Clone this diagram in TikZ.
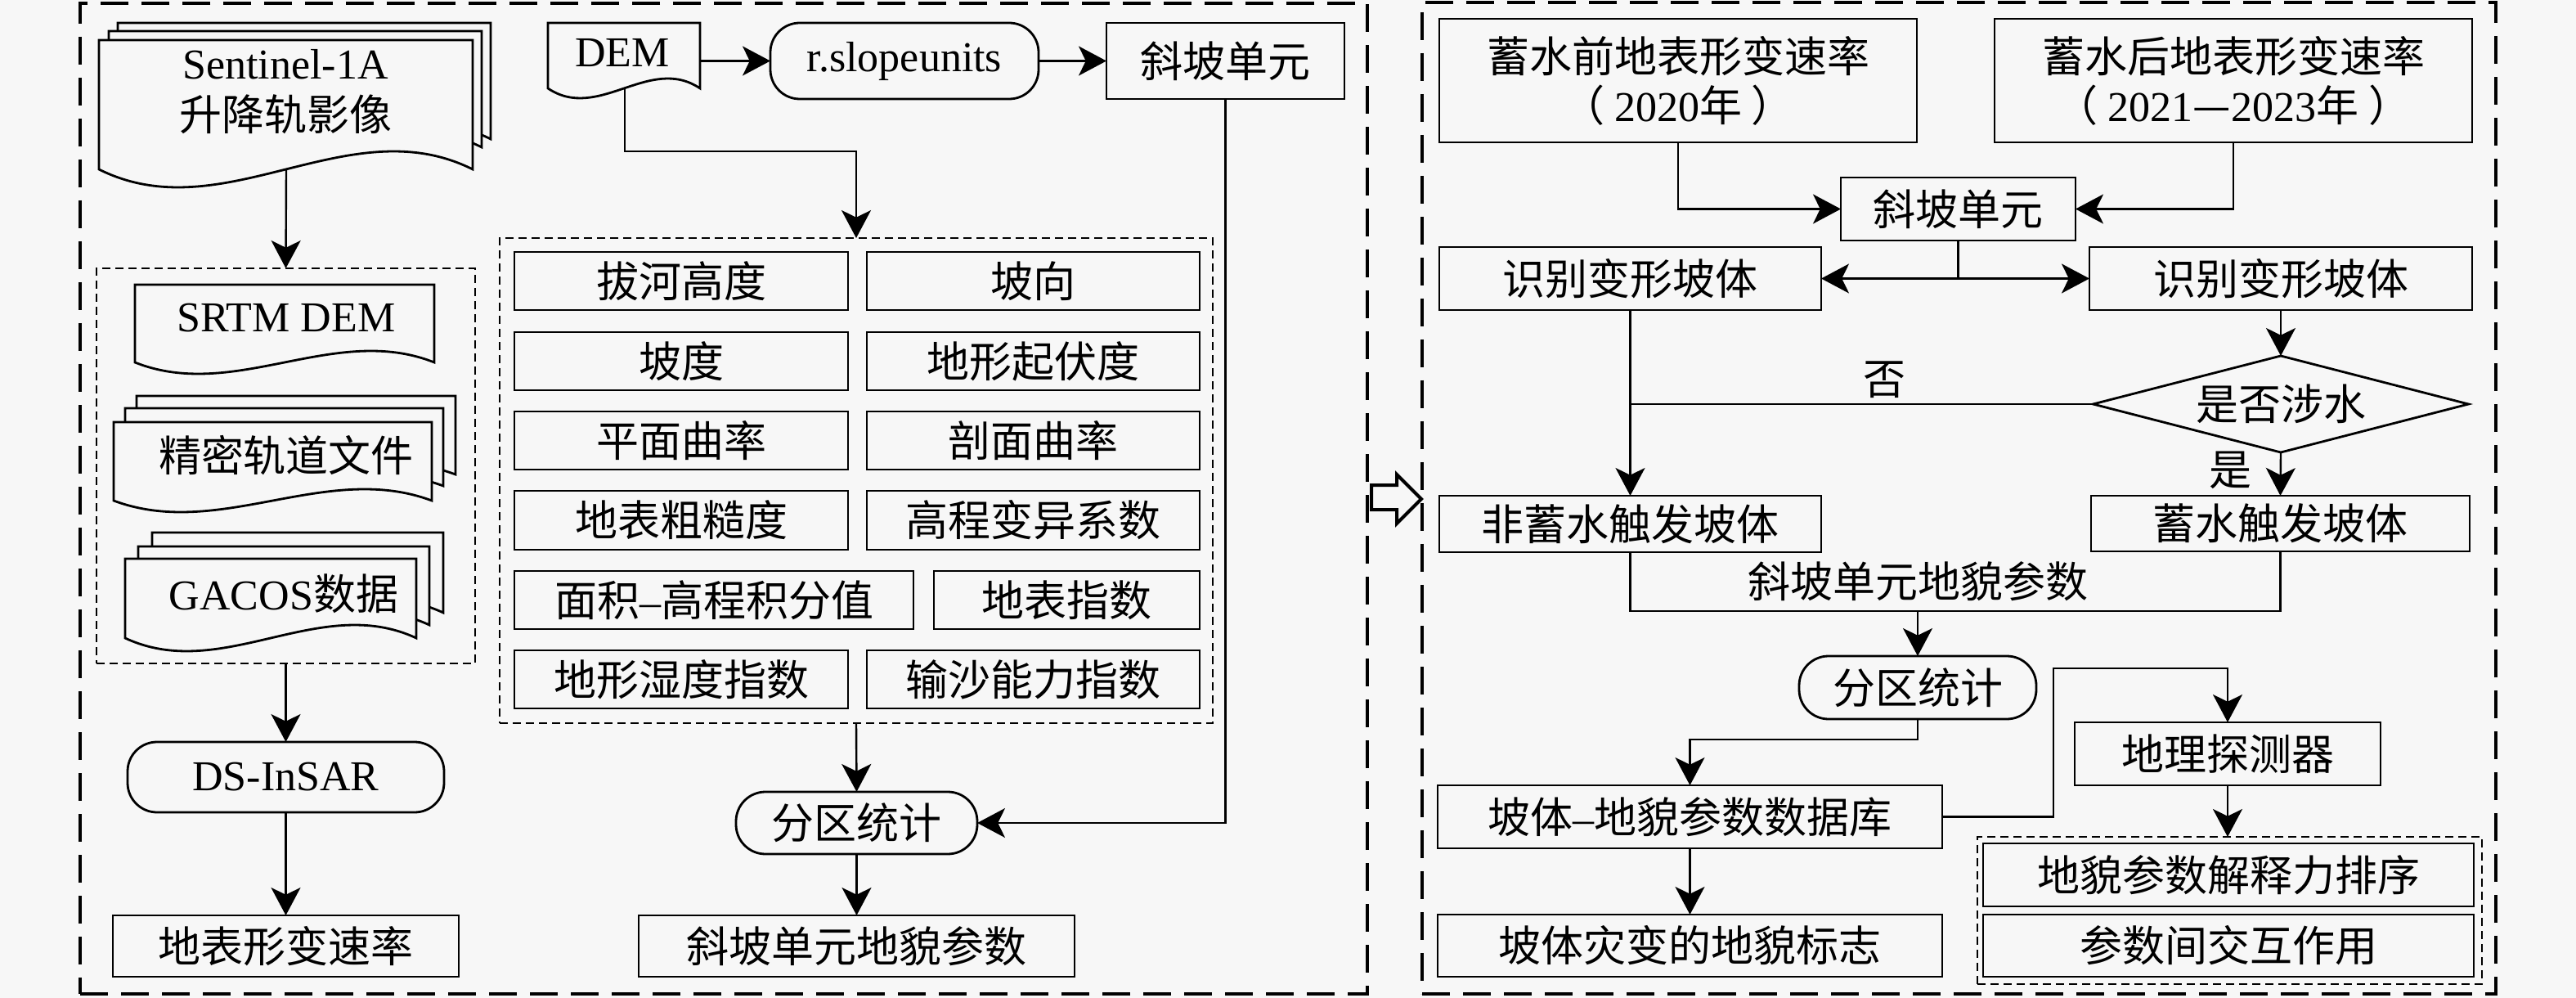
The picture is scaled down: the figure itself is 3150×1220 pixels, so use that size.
\documentclass[tikz,border=0pt]{standalone}
\usepackage{fontspec}
\setmainfont{Liberation Serif}
\newfontfamily\cjk{Noto Sans CJK SC}
\usetikzlibrary{arrows.meta,shapes.geometric,calc}
\definecolor{bg}{RGB}{247,247,247}
\newcommand\bnode[7][box]{%
 \pgfmathsetmacro\bnx{(#3+#5)/2}%
 \pgfmathsetmacro\bny{(#4+#6)/2}%
 \pgfmathsetmacro\bnw{(#5-#3)/4}%
 \pgfmathsetmacro\bnh{(#6-#4)/4}%
 \node[#1,minimum width=\bnw pt,minimum height=\bnh pt] (#2) at (\bnx,\bny) {#7};}
\newcommand\docshape[6][]{%
 \pgfmathsetmacro\dxa{#2+(#4-#2)/3}%
 \pgfmathsetmacro\dxb{#2+2*(#4-#2)/3}%
 \pgfmathsetmacro\dya{#5+3.46*#6}%
 \pgfmathsetmacro\dyb{#5-3.46*#6}%
 \filldraw[docline,#1] (#2,#3) -- (#4,#3) -- (#4,#5) .. controls (\dxb,\dyb) and (\dxa,\dya) .. (#2,#5) -- cycle;}
\begin{document}
\begin{tikzpicture}[x=0.25pt,y=-0.25pt,
  every node/.style={inner sep=0pt,outer sep=0pt,font=\fontsize{13}{15.6}\selectfont},
  box/.style={draw,line width=0.7pt,fill=bg,font=\fontsize{13}{15.6}\selectfont\cjk},
  term/.style={draw,line width=0.7pt,fill=bg,rounded corners=9pt},
  docline/.style={line width=0.7pt,fill=bg},
  frame/.style={draw,line width=1.2pt,dash pattern=on 8.5pt off 4pt},
  inframe/.style={draw,line width=0.6pt,dash pattern=on 2.5pt off 1.5pt},
  arr/.style={line width=0.6pt,-{Stealth[length=8.5pt,width=9pt,inset=2.2pt]}},
  ln/.style={line width=0.6pt},
  lab/.style={font=\fontsize{13}{15.6}\selectfont\cjk},
  ]
\fill[bg] (0,0) rectangle (3150,1220);
\useasboundingbox (0,0) rectangle (3150,1220);

% frames
\bnode[frame]{lf}{98}{4}{1672}{1215}{}
\bnode[frame]{rf}{1739}{3}{3052}{1215}{}
\filldraw[line width=1pt,fill=bg,line join=miter] (1677,593) -- (1708,593) -- (1708,580) -- (1738,610) -- (1708,640) -- (1708,623) -- (1677,623) -- cycle;

% ===== left column =====
\docshape{144}{28}{600}{170}{22}
\docshape{133}{38}{589}{180}{22}
\docshape{121}{49}{578}{207}{22}
\node[align=center,font=\fontsize{13}{15.75}\selectfont] (sent) at (349,112) {Sentinel-1A\\{\cjk 升降轨影像}};
\coordinate (sentb) at (350,207);

\bnode[inframe]{inL}{118}{328}{581}{811}{}
\docshape{165}{348}{531}{443}{14}
\node (srtm) at (350,389) {SRTM DEM};
\docshape{167}{484}{557}{580}{14}
\docshape{153}{499}{542}{594}{14}
\docshape{139}{516}{528}{612}{14}
\node[lab] (orb) at (350,557) {精密轨道文件};
\docshape{186}{651}{542}{749}{16}
\docshape{169}{668}{525}{764}{16}
\docshape{153}{683}{509}{780}{16}
\node (gacos) at (347,726) {GACOS{\cjk 数据}};

\bnode[term]{ds}{156}{907}{543}{993}{DS-InSAR}
\bnode{dfr}{138}{1119}{561}{1194}{地表形变速率}

\draw[arr] (sentb) -- (inL.north);
\draw[arr] (inL.south) -- (ds.north);
\draw[arr] (ds.south) -- (dfr.north);

% ===== middle column =====
\docshape{670}{28}{856}{108}{12}
\node (dem) at (761,65) {DEM};
\coordinate (demr) at (856,74.5);
\coordinate (demb) at (764,108);
\bnode[term]{rs}{942}{28}{1270}{121}{r.slopeunits}
\bnode{slp}{1353}{28}{1644}{121}{斜坡单元}

\bnode[inframe]{grid}{611}{291}{1483}{884}{}
\bnode{g11}{629}{308}{1037}{379}{拔河高度}
\bnode{g12}{1060}{308}{1467}{379}{坡向}
\bnode{g21}{629}{406}{1037}{477}{坡度}
\bnode{g22}{1060}{406}{1467}{477}{地形起伏度}
\bnode{g31}{629}{503}{1037}{574}{平面曲率}
\bnode{g32}{1060}{503}{1467}{574}{剖面曲率}
\bnode{g41}{629}{600}{1037}{672}{地表粗糙度}
\bnode{g42}{1060}{600}{1467}{672}{高程变异系数}
\bnode{g51}{629}{698}{1117}{769}{面积{\rmfamily –}高程积分值}
\bnode{g52}{1142}{698}{1467}{769}{地表指数}
\bnode{g61}{629}{795}{1037}{866}{地形湿度指数}
\bnode{g62}{1060}{795}{1467}{866}{输沙能力指数}

\bnode[term,font=\fontsize{13}{15.6}\selectfont\cjk]{zsL}{900}{968}{1195}{1044}{分区统计}
\bnode{parL}{781}{1119}{1314}{1194}{斜坡单元地貌参数}

\draw[arr] (demr) -- (rs.west);
\draw[arr] (rs.east) -- (slp.west);
\draw[arr] (demb) -- ++(0,77) -| (grid.north);
\draw[arr] (grid.south) -- (zsL.north);
\draw[arr] (slp.south) |- (zsL.east);
\draw[arr] (zsL.south) -- (parL.north);

% ===== right panel =====
\bnode[box,align=center,font=\fontsize{13}{15}\selectfont\cjk]{pre}{1760}{23}{2344}{174}{蓄水前地表形变速率\\（\hspace{3pt}{\rmfamily 2020}年\hspace{3pt}）}
\bnode[box,align=center,font=\fontsize{13}{15}\selectfont\cjk]{post}{2439}{23}{3023}{174}{蓄水后地表形变速率\\（\hspace{3pt}{\rmfamily 2021}—{\rmfamily 2023}年\hspace{3pt}）}
\bnode{slpR}{2251}{217}{2538}{294}{斜坡单元}
\bnode{idL}{1760}{302}{2227}{379}{识别变形坡体}
\bnode{idR}{2555}{302}{3023}{379}{识别变形坡体}
\node[draw,diamond,aspect=3.9,line width=0.7pt,fill=bg,minimum width=114.75pt,minimum height=29.5pt,font=\fontsize{13}{15.6}\selectfont\cjk] (dia) at (2789,494) {是否涉水};
\bnode{nonw}{1760}{606}{2227}{675}{非蓄水触发坡体}
\bnode{wtr}{2557}{606}{3020}{674}{蓄水触发坡体}
\node[lab] (no) at (2304,464) {否};
\node[lab] (yes) at (2727,575) {是};
\coordinate (ubot) at (2345,747);
\node[lab] (upar) at (2345,711) {斜坡单元地貌参数};
\bnode[term,font=\fontsize{13}{15.6}\selectfont\cjk]{zsR}{2200}{802}{2490}{879}{分区统计}
\bnode{db}{1758}{960}{2375}{1037}{坡体{\rmfamily –}地貌参数数据库}
\bnode{geo}{2537}{883}{2911}{960}{地理探测器}
\bnode{sign}{1758}{1118}{2375}{1194}{坡体灾变的地貌标志}
\bnode[inframe]{rd}{2418}{1023}{3035}{1203}{}
\bnode{rank}{2425}{1031}{3025}{1108}{地貌参数解释力排序}
\bnode{inter}{2425}{1118}{3025}{1194}{参数间交互作用}

\draw[arr] (pre.south) |- (slpR.west);
\draw[arr] (post.south) |- (slpR.east);
\draw[arr] (slpR.south) |- (idL.east);
\draw[arr] (slpR.south) |- (idR.west);
\draw[arr] (idR.south) -- (dia.north);
\draw[arr] (idL.south) -- (nonw.north);
\draw[ln] (dia.west) -- (dia.west -| idL.south);
\draw[arr] (dia.south) -- (wtr.north);
\draw[ln] (nonw.south) |- (ubot) -| (wtr.south);
\draw[arr] (ubot) -- (zsR.north);
\draw[arr] (zsR.south) -- ++(0,25) -| (db.north);
\draw[arr] (db.east) -- ++(136,0) |- ($(geo.north)+(0,-66)$) -- (geo.north);
\draw[arr] (geo.south) -- (geo.south |- rd.north);
\draw[arr] (db.south) -- (sign.north);
\end{tikzpicture}
\end{document}
